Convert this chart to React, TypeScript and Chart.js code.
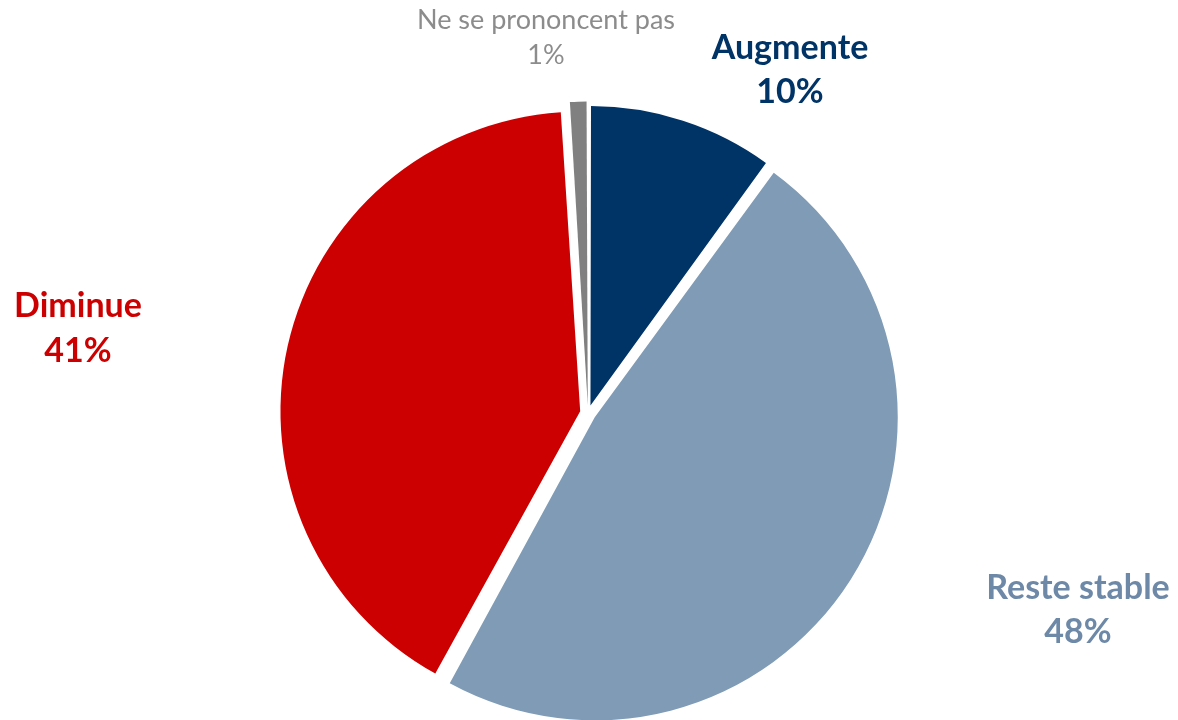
import React, { useEffect, useRef } from "react";
import { Chart, registerables } from "chart.js";

Chart.register(...registerables);

const categories = ["Augmente", "Reste stable", "Diminue", "Ne se prononcent pas"];
const values = [10, 48, 41, 1];
const percentLabels = ["10%", "48%", "41%", "1%"];
const sliceColors = ["#003366", "#7F9BB5", "#CC0000", "#808080"];
const labelColors = ["#003366", "#6D89A7", "#CC0000", "#8C8C8C"];
const labelBold = [true, true, true, false];
const labelSizes = [34, 34, 34, 27];
const lineGaps = [44, 44, 45, 35];
// label anchor (centre x, first baseline y) relative to pie centre
const labelDx = [202, 490, -510, -42];
const labelDy = [-354, 186, -96, -384];

const labelPlugin = {
  id: "outerLabels",
  afterDraw(chart: any) {
    const ctx = chart.ctx;
    const meta = chart.getDatasetMeta(0);
    meta.data.forEach((arc: any, i: number) => {
      const cx = arc.x;
      const cy = arc.y;
      ctx.save();
      ctx.fillStyle = labelColors[i];
      ctx.textAlign = "center";
      ctx.textBaseline = "alphabetic";
      ctx.font = `${labelBold[i] ? "bold " : ""}${labelSizes[i]}px Lato`;
      const x = cx + labelDx[i];
      const y = cy + labelDy[i];
      ctx.fillText(categories[i], x, y);
      ctx.fillText(percentLabels[i], x, y + lineGaps[i]);
      ctx.restore();
    });
  },
};

export default function App() {
  const ref = useRef<HTMLCanvasElement>(null);
  useEffect(() => {
    if (!ref.current) return;
    const chart = new Chart(ref.current, {
      type: "pie",
      data: {
        labels: categories,
        datasets: [
          {
            data: values,
            backgroundColor: sliceColors,
            borderWidth: 0,
            offset: 32,
          },
        ],
      },
      options: {
        animation: false,
        responsive: false,
        radius: 296,
        layout: { padding: { left: 0, right: 2, top: 106, bottom: 0 } },
        plugins: {
          legend: { display: false },
          tooltip: { enabled: false },
        },
      },
      plugins: [labelPlugin],
    });
    return () => chart.destroy();
  }, []);
  return (
    <div style={{ position: "fixed", left: 0, top: 0, width: 1178, height: 720, background: "#fff" }}>
      <canvas ref={ref} width={1178} height={720} />
    </div>
  );
}
